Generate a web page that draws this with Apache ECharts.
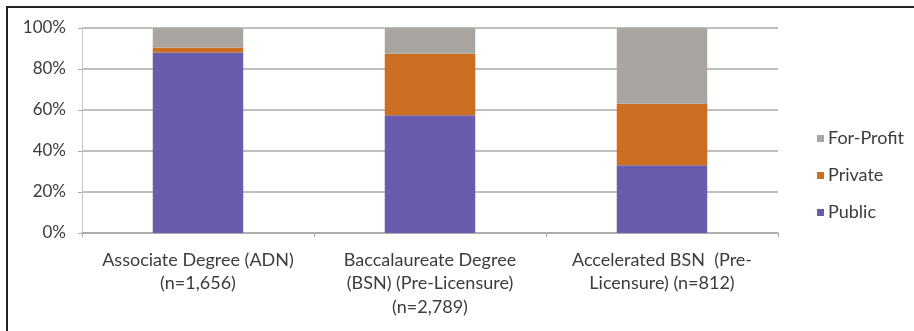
<!DOCTYPE html>
<html>
<head>
<meta charset="utf-8">
<script src="https://cdn.jsdelivr.net/npm/echarts@6/dist/echarts.min.js"></script>
<style>
  html, body { margin: 0; padding: 0; background: #fff; }
  #frame { position: absolute; left: 6px; top: 6px; width: 908px; height: 325px;
           border-top: 2px solid #222; border-left: 2px solid #222; box-sizing: border-box; }
  #chart { position: absolute; left: 0; top: 0; width: 914px; height: 331px; }
</style>
</head>
<body>
<div id="frame"></div>
<div id="chart"></div>
<script>
// Program types (x-axis categories)
const categories = [
  'Associate Degree (ADN)\n(n=1,656)',
  'Baccalaureate Degree\n(BSN) (Pre-Licensure)\n(n=2,789)',
  'Accelerated BSN  (Pre-\nLicensure) (n=812)'
];
// Share of programs by ownership type, percent
const publicShare    = [88, 57.5, 33];
const privateShare   = [2.5, 30, 30];
const forProfitShare = [9.5, 12.5, 37];
const yTicks = ['0%', '20%', '40%', '60%', '80%', '100%'];

const fontFamily = 'Lato, "Liberation Sans", Arial, sans-serif';
const textColor = '#3c3c3c';

const chart = echarts.init(document.getElementById('chart'), null, { renderer: 'canvas' });
chart.setOption({
  animation: false,
  backgroundColor: 'transparent',
  grid: { left: 82, top: 28, right: 136, bottom: 98, containLabel: false },
  legend: {
    orient: 'vertical',
    left: 812,
    top: 124,
    itemWidth: 7,
    itemHeight: 7,
    itemGap: 18,
    icon: 'rect',
    data: ['For-Profit', 'Private', 'Public'],
    textStyle: { fontFamily, fontSize: 18, lineHeight: 19, color: textColor, padding: [0, 0, 0, -1] }
  },
  xAxis: {
    type: 'category',
    data: categories,
    axisLine: { show: true, lineStyle: { color: '#a8a8a8', width: 1.5 } },
    axisTick: { show: true, length: 4, lineStyle: { color: '#a8a8a8' } },
    axisLabel: { fontFamily, fontSize: 18, color: textColor, lineHeight: 23.5, margin: 15, interval: 0 }
  },
  yAxis: {
    type: 'value',
    min: 0,
    max: 100,
    interval: 20,
    axisLine: { show: true, lineStyle: { color: '#c4c4c4', width: 1 } },
    axisTick: { show: true, length: 4, lineStyle: { color: '#a8a8a8' } },
    splitLine: { lineStyle: { color: '#aaaaaa', width: 1.5 } },
    axisLabel: {
      fontFamily, fontSize: 17, color: textColor, margin: 16,
      formatter: v => yTicks[Math.round(v / 20)]
    }
  },
  series: [
    { name: 'Public', type: 'bar', stack: 'share', data: publicShare, barWidth: '39%',
      itemStyle: { color: '#6a5cac' } },
    { name: 'Private', type: 'bar', stack: 'share', data: privateShare, barWidth: '39%',
      itemStyle: { color: '#cc6e22' } },
    { name: 'For-Profit', type: 'bar', stack: 'share', data: forProfitShare, barWidth: '39%',
      itemStyle: { color: '#a9a6a1' } }
  ]
});
</script>
</body>
</html>
